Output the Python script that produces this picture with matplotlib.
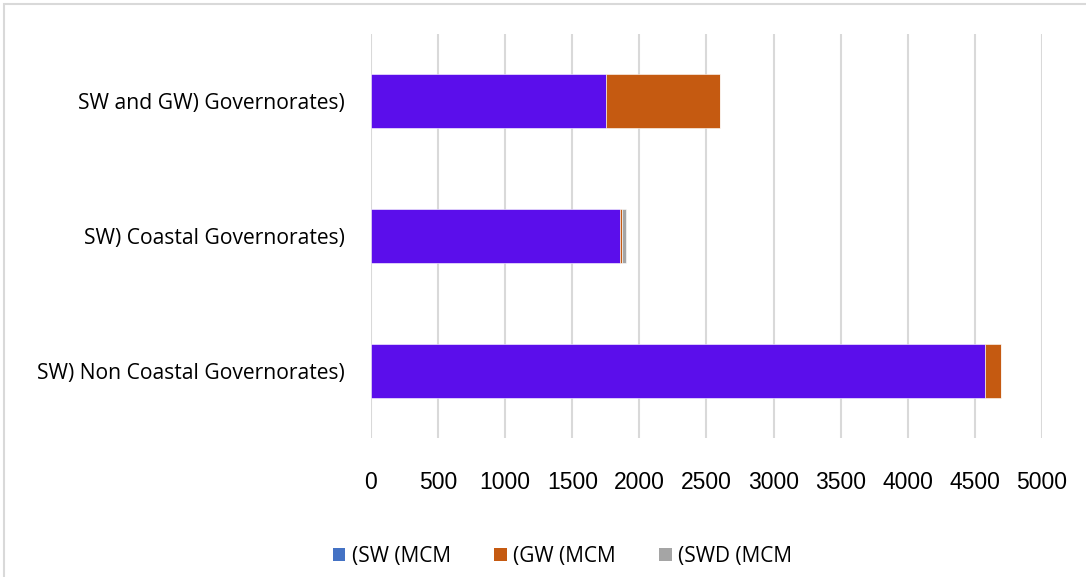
import matplotlib
matplotlib.use("Agg")
import matplotlib.pyplot as plt
from matplotlib.patches import Rectangle, Patch

categories = ["SW) Non Coastal Governorates)", "SW) Coastal Governorates)", "SW and GW) Governorates)"]
sw = [4575, 1855, 1751]
gw = [117, 18, 850]
swd = [0, 26, 0]
series_names = ["(SW (MCM", "(GW (MCM", "(SWD (MCM"]
ticks = [0, 500, 1000, 1500, 2000, 2500, 3000, 3500, 4000, 4500, 5000]

bar_colors = ["#5B0EEB", "#C55A11", "#A5A5A5"]
legend_colors = ["#4472C4", "#C55A11", "#A5A5A5"]

plt.rcParams["font.family"] = ["Open Sans", "DejaVu Sans"]

fig = plt.figure(figsize=(10.86, 5.77), dpi=100)
ax = fig.add_axes([0.3416, 0.241, 0.6179, 0.7])

y = range(len(categories))
left = [0] * len(categories)
for vals, col in zip([sw, gw, swd], bar_colors):
    ax.barh(y, vals, left=left, height=0.4, color=col, edgecolor="white",
            linewidth=0.4, zorder=3)
    left = [a + b for a, b in zip(left, vals)]

ax.set_xlim(0, 5000)
ax.set_ylim(-0.5, 2.5)
ax.set_xticks(ticks)
ax.set_xticklabels([str(t) for t in ticks], fontsize=16.5,
                   family=["Liberation Sans", "DejaVu Sans"])
ax.set_yticks(list(y))
ax.set_yticklabels(categories, fontsize=15.2)
ax.tick_params(axis="x", length=0, pad=24)
ax.tick_params(axis="y", length=0, pad=19)
ax.grid(axis="x", color="#D9D9D9", linewidth=1.5, zorder=0)
for s in ax.spines.values():
    s.set_visible(False)

handles = [Patch(facecolor=c, edgecolor="none") for c in legend_colors]
fig.legend(handles, series_names, loc="center", bbox_to_anchor=(0.518, 0.036),
           ncol=3, frameon=False, fontsize=15, handlelength=0.6,
           handleheight=0.6, handletextpad=0.3, columnspacing=2.1)

fig.patches.append(Rectangle((0.004, -0.02), 1.1, 1.013, transform=fig.transFigure,
                             fill=False, edgecolor="#D9D9D9", linewidth=1.5))

fig.savefig("out.png", dpi=100, facecolor="white")
